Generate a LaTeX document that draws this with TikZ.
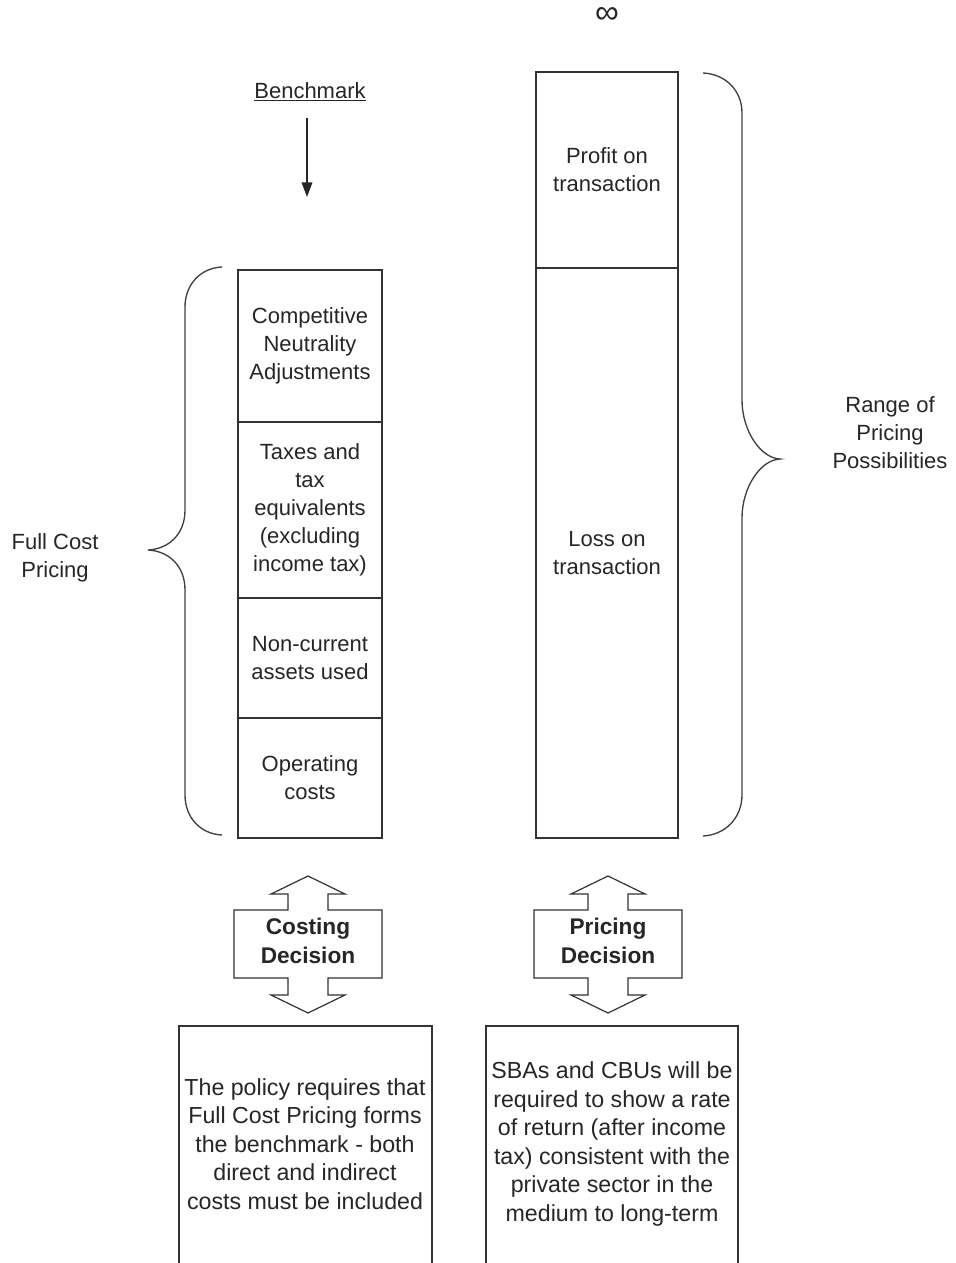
\documentclass[tikz,border=0pt]{standalone}
\usepackage{fontspec}
\setmainfont{Liberation Sans}
\usetikzlibrary{arrows.meta}
\newcommand\mytxt{\fontsize{16.5}{21}\selectfont}
\newcommand\mytxtb{\fontsize{17.4}{21.4}\selectfont}
\newcommand\mybold{\fontsize{17}{22}\selectfont\bfseries}
\begin{document}
\begin{tikzpicture}[x=0.75pt,y=-0.75pt,
  cell/.style={draw=black!80, line width=0.9pt, inner sep=0pt, outer sep=0pt, align=center, font=\mytxt, text=black!85},
  lbl/.style={align=center, font=\mytxt, inner sep=0pt, text=black!85},
  note/.style={align=center, font=\mytxtb, inner sep=0pt, text=black!85},
  dec/.style={align=center, font=\mybold, inner sep=0pt, text=black!85},
  bracestyle/.style={draw=black!75, line width=1pt},
  dblarrow/.style={draw=black!80, line width=0.9pt, fill=white, line join=miter},
  arr/.style={draw=black!85, line width=1.1pt, -{Triangle[length=11pt,width=8pt]}}]
\useasboundingbox (0,0) rectangle (956,1263);

% infinity
\node[lbl, font=\fontsize{25}{25}\selectfont] (inf) at (607,16) {∞};

% benchmark
\node[lbl] (bench) at (310,92) {\underline{Benchmark}};
\coordinate (benchtip) at (307,197);
\draw[arr, shorten <=12pt] (bench.south -| benchtip) -- (benchtip);

% left column
\node[cell, minimum width=108pt, minimum height=114pt] (cna) at (310,346) {Competitive\\Neutrality\\Adjustments};
\node[cell, minimum width=108pt, minimum height=132pt] (tax) at (310,510) {Taxes and\\tax\\equivalents\\(excluding\\income tax)};
\node[cell, minimum width=108pt, minimum height=90pt] (nca) at (310,658) {Non-current\\assets used};
\node[cell, minimum width=108pt, minimum height=90pt] (opc) at (310,778) {Operating\\costs};

% right column
\node[cell, minimum width=106.5pt, minimum height=147pt] (profit) at (607,170) {Profit on\\transaction};
\node[cell, minimum width=106.5pt, minimum height=427.5pt] (loss) at (607,553) {Loss on\\transaction};

% braces
\draw[bracestyle] (222,267) .. controls (200,268) and (185,285) .. (185,307) -- (185,510)
  .. controls (185,535) and (168,549) .. (148,550)
  .. controls (168,551) and (185,565) .. (185,590) -- (185,795)
  .. controls (185,817) and (200,834) .. (222,835);
\draw[bracestyle] (703,73) .. controls (725,74) and (742,90) .. (742,113) -- (742,400)
  .. controls (742,430) and (760,458) .. (780,459)
  .. controls (760,460) and (742,488) .. (742,518) -- (742,795)
  .. controls (742,818) and (725,835) .. (703,836);

\node[lbl] (fcp) at (55,558) {Full Cost\\Pricing};
\node[lbl] (range) at (890,433) {Range of\\Pricing\\Possibilities};

% double arrows
\begin{scope}[shift={(308,0)}]
\draw[dblarrow] (0,876) -- (37,894) -- (20,894) -- (20,910) -- (74,910) -- (74,978) -- (20,978) -- (20,995) -- (37,995) -- (0,1013) -- (-37,995) -- (-20,995) -- (-20,978) -- (-74,978) -- (-74,910) -- (-20,910) -- (-20,894) -- (-37,894) -- cycle;
\end{scope}
\begin{scope}[shift={(608,0)}]
\draw[dblarrow] (0,876) -- (37,894) -- (20,894) -- (20,910) -- (74,910) -- (74,978) -- (20,978) -- (20,995) -- (37,995) -- (0,1013) -- (-37,995) -- (-20,995) -- (-20,978) -- (-74,978) -- (-74,910) -- (-20,910) -- (-20,894) -- (-37,894) -- cycle;
\end{scope}
\node[dec] (costing) at (308,941) {Costing\\Decision};
\node[dec] (pricing) at (608,941) {Pricing\\Decision};

% bottom boxes
\node[cell, minimum width=189.75pt, minimum height=186.75pt] (policybox) at (305.5,1150.5) {};
\node[note] (policy) at (305,1144) {The policy requires that\\Full Cost Pricing forms\\the benchmark - both\\direct and indirect\\costs must be included};
\node[cell, minimum width=189pt, minimum height=186.75pt] (returnbox) at (612,1150.5) {};
\node[note] (return) at (612,1144) {SBAs and CBUs will be\\required to show a rate\\of return (after income\\tax) consistent with the\\private sector in the\\medium to long-term};
\end{tikzpicture}
\end{document}
